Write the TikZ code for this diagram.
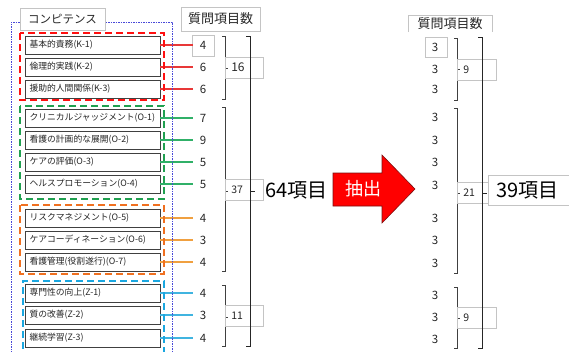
\documentclass[tikz,border=0pt]{standalone}
\usepackage{fontspec}
\setmainfont{Noto Sans CJK JP}
\definecolor{kdash}{HTML}{FF1010}
\definecolor{odash}{HTML}{20A050}
\definecolor{pdash}{HTML}{F07020}
\definecolor{zdash}{HTML}{1AA7E0}
\definecolor{klinec}{HTML}{E83838}
\definecolor{olinec}{HTML}{30B068}
\definecolor{plinec}{HTML}{F0A040}
\definecolor{zlinec}{HTML}{40B4E0}
\definecolor{outerdot}{HTML}{4848D8}
\definecolor{framec}{HTML}{C4C4C4}
\definecolor{boxedge}{HTML}{404040}
\definecolor{txt}{HTML}{262626}
\definecolor{arrowedge}{HTML}{7A1010}
\tikzset{
  item/.style={draw=boxedge, line width=0.9pt, fill=white, minimum height=18pt,
    text width=126pt, inner xsep=4.5pt, inner ysep=0pt, align=left,
    font=\fontsize{8.8}{10}\selectfont, text=txt},
  num/.style={minimum width=20pt, inner sep=0pt, font=\fontsize{11.5}{12}\selectfont, text=txt},
  conn/.style={line width=1.1pt},
  grp/.style={line width=2.2pt, dash pattern=on 7pt off 4pt},
  brk/.style={draw=boxedge, line width=0.8pt},
  obrk/.style={draw=black!85, line width=0.8pt},
  sumbox/.style={draw=framec, line width=0.5pt, anchor=west, minimum height=21pt,
    text width=26pt, inner xsep=6pt, inner ysep=0pt, align=left,
    font=\fontsize{10.5}{12}\selectfont, text=txt},
  fbox/.style={draw=framec, line width=0.5pt}
}
\begin{document}
\begin{tikzpicture}[x=1pt,y=-1pt]
\useasboundingbox (0,0) rectangle (569,351);

% ---------- left panel: numbers ----------
\draw[fbox] (192,35) rectangle (214,56);
\foreach \n/\y/\v in {n1/45/4,n2/67/6,n3/89/6,n4/118/7,n5/140/9,n6/162/5,n7/184/5,n8/218/4,n9/240/3,n10/262/4,n11/293/4,n12/315/3,n13/338/4}
  \node[num] (\n) at (203,\y) {\v};

% ---------- items ----------
\node[item] (k1) at (92.5,45) {\mbox{基本的責務(K-1)}};
\node[item] (k2) at (92.5,67) {\mbox{倫理的実践(K-2)}};
\node[item] (k3) at (92.5,89) {\mbox{援助的人間関係(K-3)}};
\node[item] (o1) at (92.5,118) {\mbox{クリニカルジャッジメント(O-1)}};
\node[item] (o2) at (92.5,140) {\mbox{看護の計画的な展開(O-2)}};
\node[item] (o3) at (92.5,162) {\mbox{ケアの評価(O-3)}};
\node[item] (o4) at (92.5,184) {\mbox{ヘルスプロモーション(O-4)}};
\node[item] (o5) at (92.5,218) {\mbox{リスクマネジメント(O-5)}};
\node[item] (o6) at (92.5,240) {\mbox{ケアコーディネーション(O-6)}};
\node[item] (o7) at (92.5,262) {\mbox{看護管理(役割遂行)(O-7)}};
\node[item] (z1) at (92.5,293) {\mbox{専門性の向上(Z-1)}};
\node[item] (z2) at (92.5,315) {\mbox{質の改善(Z-2)}};
\node[item] (z3) at (92.5,338) {\mbox{継続学習(Z-3)}};

% ---------- connectors ----------
\draw[conn,draw=klinec] (k1.east) -- (n1.west);
\draw[conn,draw=klinec] (k2.east) -- (n2.west);
\draw[conn,draw=klinec] (k3.east) -- (n3.west);
\draw[conn,draw=olinec] (o1.east) -- (n4.west);
\draw[conn,draw=olinec] (o2.east) -- (n5.west);
\draw[conn,draw=olinec] (o3.east) -- (n6.west);
\draw[conn,draw=olinec] (o4.east) -- (n7.west);
\draw[conn,draw=plinec] (o5.east) -- (n8.west);
\draw[conn,draw=plinec] (o6.east) -- (n9.west);
\draw[conn,draw=plinec] (o7.east) -- (n10.west);
\draw[conn,draw=zlinec] (z1.east) -- (n11.west);
\draw[conn,draw=zlinec] (z2.east) -- (n12.west);
\draw[conn,draw=zlinec] (z3.east) -- (n13.west);

% ---------- group frames ----------
\draw[draw=outerdot, line width=0.9pt, dash pattern=on 1.5pt off 1pt] (11,360) -- (11,22) -- (172,22) -- (172,360);
\node[fbox, fill=white, minimum width=85pt, minimum height=22pt, inner sep=0pt,
  font=\fontsize{11.5}{13}\selectfont, text=txt] (comp) at (62.5,19) {コンピテンス};
\draw[grp,draw=kdash] (20,33) rectangle (164,100);
\draw[grp,draw=odash] (20,106) rectangle (164,199);
\draw[grp,draw=pdash] (20,205) rectangle (164,274);
\draw[grp,draw=zdash] (23,360) -- (23,281) -- (164,281) -- (164,360);

% ---------- left header ----------
\node[fbox, minimum width=79pt, minimum height=24pt, inner sep=0pt,
  font=\fontsize{13}{15}\selectfont, text=txt] (hl) at (220.5,19) {質問項目数};

% ---------- left brackets ----------
\draw[brk] (222,36) -- (225,36) -- (225,99) -- (222,99);
\draw[brk] (225,68) -- (228,68);
\node[sumbox, font=\fontsize{12}{13}\selectfont] (s16) at (225,67.5) {16};
\draw[brk] (222,107) -- (225,107) -- (225,271) -- (222,271);
\draw[brk] (225,191) -- (228,191);
\node[sumbox] (s37) at (225,190) {37};
\draw[brk] (222,285) -- (225,285) -- (225,346) -- (222,346);
\draw[brk] (225,317) -- (228,317);
\node[sumbox] (s11) at (225,316) {11};
\draw[obrk] (246,36) -- (250,36) -- (250,346) -- (246,346);
\draw[obrk] (250,191) -- (255,191);
\draw[draw=framec, line width=0.5pt] (263,182) -- (263,201);
\node[anchor=west, inner xsep=2pt, inner ysep=0pt, font=\fontsize{20}{22}\selectfont, text=black] (t64) at (263,190) {64項目};

% ---------- arrow ----------
\draw[fill=red, draw=arrowedge, line width=0.6pt] (333,173) -- (382,173) -- (382,155) -- (415,189) -- (382,223) -- (382,206) -- (333,206) -- cycle;
\node[text=white, font=\fontsize{18}{20}\selectfont, inner sep=0pt] (ext) at (363,189) {抽出};

% ---------- right panel ----------
\draw[fbox] (408,32) -- (408,15) -- (492,15) -- (492,32);
\node[inner sep=0pt, font=\fontsize{13}{15}\selectfont, text=txt] (hr) at (450,23.5) {質問項目数};
\draw[fbox] (425,37) rectangle (447,57);
\foreach \n/\y in {r1/47,r2/69,r3/89,r4/117,r5/140,r6/162,r7/185,r8/218,r9/240,r10/263,r11/295,r12/317,r13/339}
  \node[num] (\n) at (435,\y) {3};

\draw[brk] (454,38) -- (457,38) -- (457,100) -- (454,100);
\draw[brk] (457,69) -- (460,69);
\node[sumbox, text width=27pt] (s9a) at (457,70) {9};
\draw[brk] (454,108) -- (457,108) -- (457,273) -- (454,273);
\draw[brk] (457,193) -- (460,193);
\node[sumbox, text width=27pt] (s21) at (457,192.5) {21};
\draw[brk] (454,287) -- (457,287) -- (457,348) -- (454,348);
\draw[brk] (457,318) -- (460,318);
\node[sumbox, text width=27pt] (s9b) at (457,317.5) {9};
\draw[obrk] (478,37) -- (482,37) -- (482,348) -- (478,348);
\draw[obrk] (482,193) -- (487,193);
\node[fbox, fill=white, anchor=west, minimum height=30pt, text width=85pt, inner xsep=8pt, inner ysep=0pt,
  align=left, font=\fontsize{20}{22}\selectfont, text=black] (t39) at (488,190) {39項目};
\end{tikzpicture}
\end{document}
